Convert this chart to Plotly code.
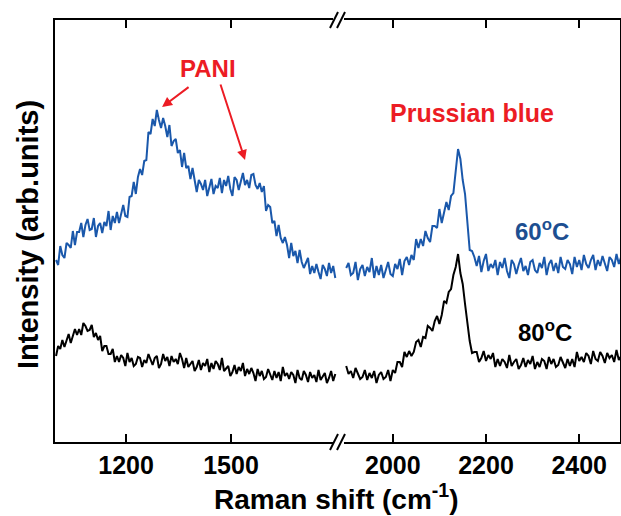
import plotly.graph_objects as go

# ---------------- data (intensity, arb. units) ----------------
# wavenumber grids (cm^-1)
wn_low = list(range(1000, 1799, 6))     # 1000 ... 1798
wn_high = list(range(1900, 2491, 5))    # 1900 ... 2490

blue_60C_low = [
    182, 177, 196, 187, 184, 199, 197, 194, 211, 197, 210, 210, 219, 205, 217, 223, 212, 213, 224, 205,
    216, 219, 209, 220, 216, 231, 212, 226, 219, 230, 219, 229, 237, 226, 225, 245, 246, 260, 248, 265,
    273, 267, 281, 282, 310, 308, 323, 316, 332, 322, 314, 324, 316, 305, 317, 296, 301, 303, 289, 292,
    275, 289, 274, 276, 263, 274, 260, 250, 262, 258, 252, 262, 246, 255, 263, 248, 256, 254, 264, 249,
    262, 256, 266, 253, 246, 265, 262, 252, 261, 269, 257, 262, 254, 267, 268, 257, 253, 259, 250, 256,
    231, 237, 235, 219, 221, 206, 217, 204, 199, 205, 197, 184, 199, 186, 191, 179, 192, 180, 174, 180,
    184, 168, 176, 169, 178, 170, 163, 177, 173, 166, 179, 169, 176, 164,
]

black_80C_low = [
    86, 96, 93, 102, 95, 102, 108, 99, 106, 113, 107, 113, 107, 119, 116, 111, 112, 117, 105, 109,
    102, 106, 91, 96, 96, 88, 88, 93, 80, 86, 80, 87, 84, 76, 89, 80, 84, 76, 78, 85,
    84, 75, 82, 79, 88, 83, 77, 84, 86, 74, 78, 88, 81, 85, 76, 86, 80, 83, 78, 89,
    83, 74, 84, 75, 78, 81, 71, 75, 82, 72, 79, 76, 83, 70, 79, 73, 81, 78, 72, 84,
    71, 74, 76, 66, 70, 77, 68, 75, 71, 79, 66, 73, 68, 74, 69, 61, 73, 66, 71, 63,
    65, 73, 68, 62, 71, 64, 70, 61, 75, 66, 69, 63, 70, 67, 59, 72, 64, 62, 71, 67,
    60, 70, 64, 67, 60, 72, 62, 66, 69, 59, 64, 71, 61, 68,
]

blue_60C_high = [
    174, 179, 167, 169, 180, 162, 173, 177, 166, 175, 170, 184, 164, 176, 167, 177, 164, 173, 180, 168,
    166, 178, 173, 183, 167, 181, 185, 177, 187, 182, 203, 194, 203, 196, 211, 204, 200, 216, 216, 214,
    233, 219, 231, 240, 232, 246, 249, 270, 293, 283, 262, 248, 221, 192, 191, 185, 176, 186, 170, 181,
    188, 171, 178, 174, 182, 167, 180, 174, 184, 171, 164, 182, 178, 168, 177, 184, 171, 176, 167, 180,
    182, 172, 169, 179, 174, 185, 167, 178, 182, 171, 179, 169, 185, 175, 173, 182, 178, 168, 185, 175,
    182, 172, 187, 178, 174, 182, 187, 172, 182, 176, 186, 178, 171, 185, 182, 175, 188, 178, 185,
]

black_80C_high = [
    76, 68, 71, 64, 74, 69, 63, 65, 72, 62, 69, 64, 71, 59, 67, 70, 63, 65, 72, 61,
    72, 69, 80, 80, 75, 90, 85, 91, 86, 90, 100, 102, 95, 105, 104, 116, 114, 111, 121, 126,
    118, 127, 141, 139, 150, 153, 167, 175, 188, 169, 158, 138, 116, 101, 89, 90, 90, 80, 84, 91,
    81, 87, 83, 89, 75, 83, 76, 83, 80, 74, 87, 76, 80, 83, 73, 77, 84, 75, 82, 78,
    86, 73, 80, 75, 83, 81, 73, 85, 78, 83, 75, 77, 85, 80, 74, 83, 76, 83, 75, 90,
    81, 85, 80, 89, 86, 78, 91, 83, 81, 90, 86, 79, 89, 84, 87, 80, 92, 82, 86,
]

low_ticks = [1200, 1500]
high_ticks = [2000, 2200, 2400]

# ---------------- styling ----------------
BLUE = "#1a58ab"
BLUE_TXT = "#1d4f91"
RED = "#ec1c24"
FONT = "Liberation Sans, Arial, sans-serif"

W, H = 621, 516
L, R, T, B = 55, 1, 20, 74
BREAK_PX = 340
pw = W - L - R
ph = H - T - B
split = (BREAK_PX - L) / pw

def px2paper(px, py):
    return (px - L) / pw, (H - B - py) / ph

fig = go.Figure()
LW = 2
fig.add_trace(go.Scatter(x=wn_low, y=blue_60C_low, mode="lines",
                         line=dict(color=BLUE, width=LW), xaxis="x", yaxis="y",
                         showlegend=False, hoverinfo="skip"))
fig.add_trace(go.Scatter(x=wn_low, y=black_80C_low, mode="lines",
                         line=dict(color="black", width=LW), xaxis="x", yaxis="y",
                         showlegend=False, hoverinfo="skip"))
fig.add_trace(go.Scatter(x=wn_high, y=blue_60C_high, mode="lines",
                         line=dict(color=BLUE, width=LW), xaxis="x2", yaxis="y2",
                         showlegend=False, hoverinfo="skip"))
fig.add_trace(go.Scatter(x=wn_high, y=black_80C_high, mode="lines",
                         line=dict(color="black", width=LW), xaxis="x2", yaxis="y2",
                         showlegend=False, hoverinfo="skip"))

tickfont = dict(family=FONT, size=25, color="black", weight="bold")
xcommon = dict(showline=True, linecolor="black", linewidth=2, mirror="ticks",
               ticks="inside", ticklen=8, tickwidth=2, tickcolor="black",
               showgrid=False, zeroline=False, tickfont=tickfont)
ycommon = dict(showline=True, linecolor="black", linewidth=2, ticks="",
               showticklabels=False, showgrid=False, zeroline=False,
               range=[0, 422], domain=[0, 1])

fig.update_layout(
    width=W, height=H,
    margin=dict(l=L, r=R, t=T, b=B, pad=0),
    paper_bgcolor="white", plot_bgcolor="white",
    xaxis=dict(domain=[0, split], range=[997, 1811.4], tickvals=low_ticks,
               anchor="y", **xcommon),
    xaxis2=dict(domain=[split, 1], range=[1886.7, 2487.5], tickvals=high_ticks,
                anchor="y2", **xcommon),
    yaxis=dict(anchor="x", side="left", **ycommon),
    yaxis2=dict(anchor="x2", side="right", **ycommon),
)

C = dict(xanchor="center", yanchor="middle", showarrow=False)
annotations = [
    dict(text="PANI", xref="x", yref="y", x=1434, y=374,
         font=dict(family=FONT, size=24, color=RED, weight="bold"), **C),
    dict(text="", xref="x", yref="y", x=1303, y=335, ax=28, ay=-21,
         showarrow=True, arrowcolor=RED, arrowwidth=2, arrowhead=2, arrowsize=1),
    dict(text="", xref="x", yref="y", x=1540, y=282, ax=-25, ay=-77,
         showarrow=True, arrowcolor=RED, arrowwidth=2, arrowhead=2, arrowsize=1),
    dict(text="Prussian blue", xref="x2", yref="y2", x=2170, y=329,
         font=dict(family=FONT, size=25, color=RED, weight="bold"), **C),
    dict(text="60<sup>o</sup>C", xref="x2", yref="y2", x=2321, y=212,
         font=dict(family=FONT, size=24, color=BLUE_TXT, weight="bold"), **C),
    dict(text="80<sup>o</sup>C", xref="x2", yref="y2", x=2327, y=111,
         font=dict(family=FONT, size=24, color="black", weight="bold"), **C),
    dict(text="Raman shift (cm<sup>-1</sup>)", xref="paper", yref="paper",
         x=(336 - L) / pw, y=(H - B - 497) / ph,
         font=dict(family=FONT, size=28, color="black", weight="bold"), **C),
    dict(text="Intensity (arb.units)", xref="paper", yref="paper", textangle=-90,
         x=(28 - L) / pw, y=(H - B - 235) / ph,
         font=dict(family=FONT, size=29, color="black", weight="bold"), **C),
]
fig.update_layout(annotations=annotations)

# axis-break marks
shapes = []
for (py, h) in [(20, 8), (442, 8)]:
    x0, y0 = px2paper(333, py + 2)
    x1, y1 = px2paper(344, py - 2)
    shapes.append(dict(type="rect", xref="paper", yref="paper", x0=x0, x1=x1,
                       y0=y0, y1=y1, fillcolor="white", line=dict(width=0), layer="above"))
    for dx in (0, 7):
        a = px2paper(330 + dx, py + h)
        b = px2paper(338 + dx, py - h)
        shapes.append(dict(type="line", xref="paper", yref="paper",
                           x0=a[0], y0=a[1], x1=b[0], y1=b[1],
                           line=dict(color="black", width=2), layer="above"))
fig.update_layout(shapes=shapes)

fig.write_html("out.html")
